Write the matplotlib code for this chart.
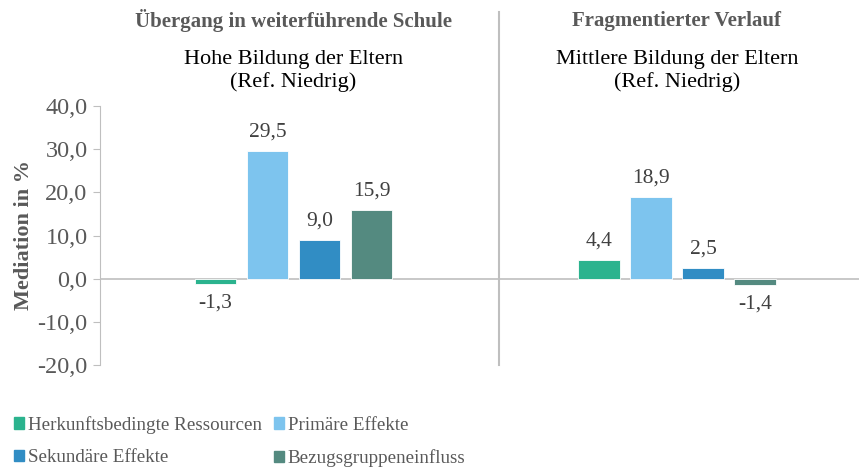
import numpy as np
import matplotlib.pyplot as plt
from matplotlib.patches import Patch

# data
groups = ['Übergang in weiterführende Schule', 'Fragmentierter Verlauf']
subtitles = ['Hohe Bildung der Eltern\n(Ref. Niedrig)', 'Mittlere Bildung der Eltern\n(Ref. Niedrig)']
series = ['Herkunftsbedingte Ressourcen', 'Primäre Effekte', 'Sekundäre Effekte', 'Bezugsgruppeneinfluss']
herkunft = [-1.3, 4.4]
primaer = [29.5, 18.9]
sekundaer = [9.0, 2.5]
bezug = [15.9, -1.4]
colors = ['#2bb38e', '#7dc4ee', '#318dc4', '#548a80']
yticks = [-20, -10, 0, 10, 20, 30, 40]

plt.rcParams['font.family'] = ['Liberation Serif', 'DejaVu Serif']

fig = plt.figure(figsize=(8.59, 4.68), dpi=100)
ax = fig.add_axes([100 / 859, 103 / 468, 759 / 859, 259 / 468])

x = np.arange(len(groups))
step = 0.1356
width = 0.107
values = [herkunft, primaer, sekundaer, bezug]
for i, (vals, col) in enumerate(zip(values, colors)):
    pos = x + (i - 1.5) * step
    ax.bar(pos, vals, width, color=col, label=series[i], edgecolor='white', linewidth=0.6)
    for xp, v in zip(pos, vals):
        lab = f'{v:.1f}'.replace('.', ',')
        if v >= 0:
            ax.text(xp, v + 2.2, lab, ha='center', va='bottom', fontsize=15.5, color='#404040')
        else:
            ax.text(xp, v - 2.2, lab, ha='center', va='top', fontsize=15.5, color='#404040')

ax.set_xlim(-0.5046, 1.4746)
ax.set_ylim(-20, 40)
ax.set_yticks(yticks)
ax.set_yticklabels([f'{t:.1f}'.replace('.', ',') for t in yticks], fontsize=17.5, color='#595959')
ax.set_xticks([])
ax.axhline(0, color='#bfbfbf', linewidth=1.2, zorder=0)
for s in ['top', 'right', 'bottom']:
    ax.spines[s].set_visible(False)
ax.spines['left'].set_color('#bfbfbf')
ax.tick_params(axis='y', length=5, color='#bfbfbf', pad=4)
ax.set_ylabel('Mediation in %', fontsize=16, fontweight='bold', color='#595959', labelpad=2)

# separator between the two panels
ax.axvline(0.536, ymin=0, ymax=1.363, color='#bfbfbf', linewidth=1.5, clip_on=False)

for xi, g, sub in zip(x, groups, subtitles):
    ax.text(xi, 1.33, g, transform=ax.get_xaxis_transform(), ha='center', va='center',
            fontsize=15, fontweight='bold', color='#595959')
    ax.text(xi, 1.135, sub, transform=ax.get_xaxis_transform(), ha='center', va='center',
            fontsize=16, color='black', linespacing=1.15)

# legend fills column-wise, so order entries to get the reference row layout
order = [0, 2, 1, 3]
handles = [Patch(color=colors[k]) for k in order]
labels = [series[k] for k in order]
fig.legend(handles, labels, loc='lower left', bbox_to_anchor=(14 / 859, 1 / 468), ncol=2,
           frameon=False, fontsize=13.7, handlelength=0.55, handleheight=0.55,
           handletextpad=0.2, columnspacing=0.6, labelspacing=0.8, borderpad=0,
           borderaxespad=0, labelcolor='#595959')

fig.savefig('out.png', dpi=100)
